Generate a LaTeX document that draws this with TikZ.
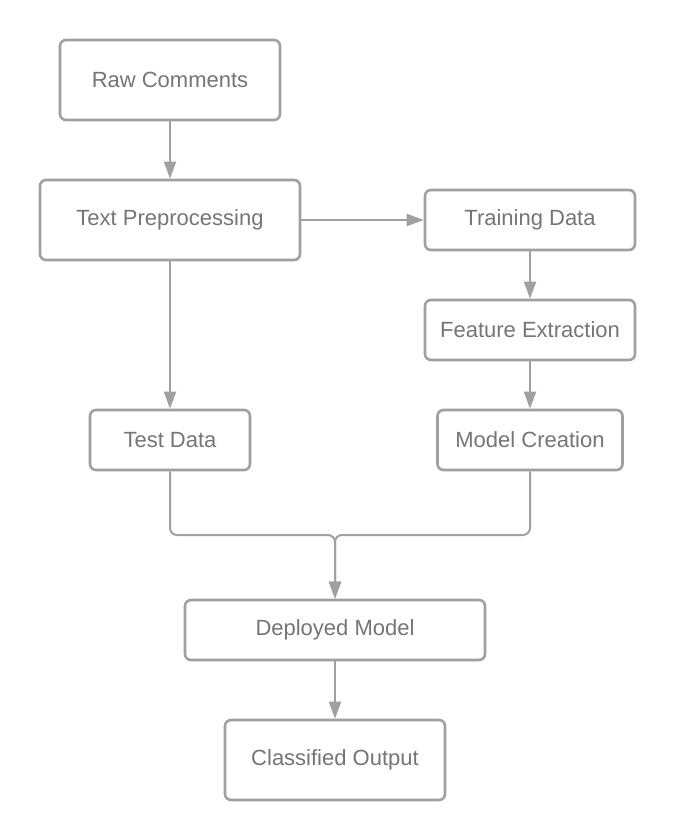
\documentclass[tikz,border=0pt]{standalone}
\usepackage{fontspec}
\setmainfont{Liberation Sans}
\usepackage{tikz}
\usetikzlibrary{arrows.meta,positioning}
\definecolor{linegray}{RGB}{160,160,160}
\definecolor{textgray}{RGB}{117,117,117}
\tikzset{
  fbox/.style={draw=linegray, line width=2.6pt, rounded corners=6pt, fill=white,
    text=textgray, font=\fontsize{22}{26}\selectfont, align=center, inner sep=0pt},
  conn/.style={draw=linegray, line width=2pt, -{Triangle[length=17pt, width=12pt]}},
}

\begin{document}
\begin{tikzpicture}[x=1pt, y=-1pt]
  \useasboundingbox (0,0) rectangle (675,840);

  % --- Boxes ---
  \node[fbox, minimum width=220pt, minimum height=80pt] (raw) at (170,80) {Raw Comments};
  \node[fbox, minimum width=260pt, minimum height=80pt] (prep) at (170,220) {Text Preprocessing};
  \node[fbox, minimum width=210pt, minimum height=60pt] (train) at (530,220) {Training Data};
  \node[fbox, minimum width=210pt, minimum height=60pt] (feat) at (530,330) {Feature Extraction};
  \node[fbox, minimum width=160pt, minimum height=60pt] (test) at (170,440) {Test Data};
  \node[fbox, minimum width=185pt, minimum height=60pt] (model) at (530,440) {Model Creation};
  \node[fbox, minimum width=300pt, minimum height=60pt] (deploy) at (335,630) {Deployed Model};
  \node[fbox, minimum width=220pt, minimum height=80pt] (out) at (335,760) {Classified Output};

  % Junction above the deployed model
  \coordinate (join) at (335,535);

  % --- Connectors ---
  \draw[conn] (raw) -- (prep);
  \draw[conn] (prep) -- (train);
  \draw[conn] (train) -- (feat);
  \draw[conn] (feat) -- (model);
  \draw[conn] (prep) -- (test);
  \draw[conn, rounded corners=7pt] (test.south) |- (join) -- (deploy.north);
  \draw[conn, rounded corners=7pt] (model.south) |- (join) -- (deploy.north);
  \draw[conn] (deploy) -- (out);
\end{tikzpicture}
\end{document}
